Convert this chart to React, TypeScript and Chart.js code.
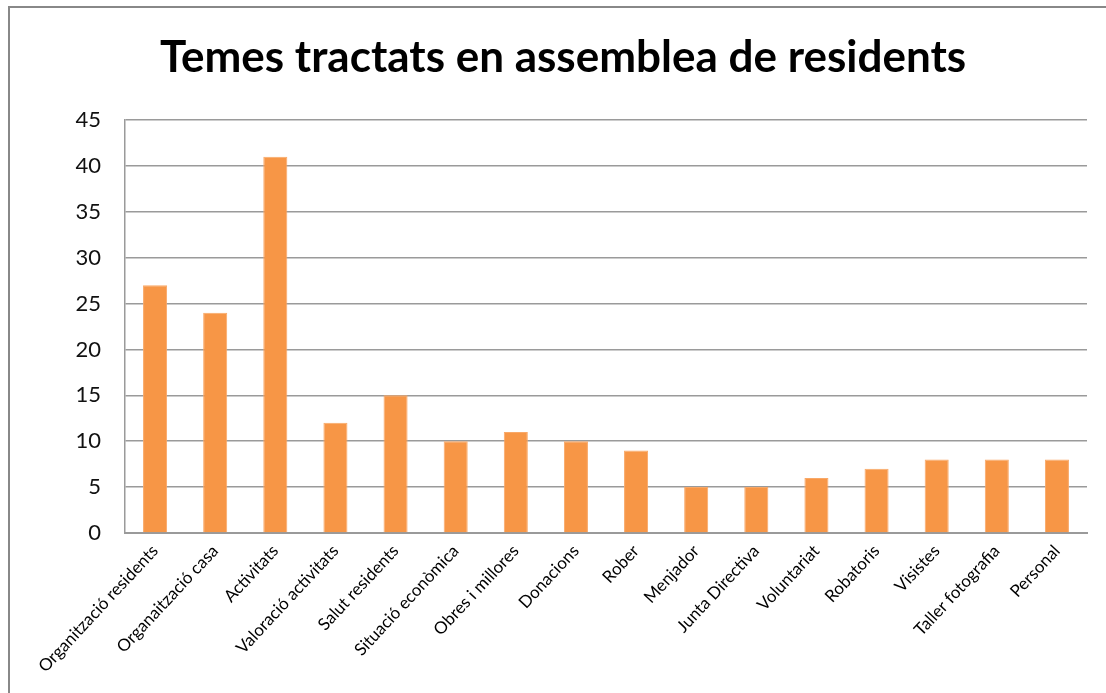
import React, { useEffect, useRef } from "react";
import { Chart, registerables } from "chart.js";

Chart.register(...registerables);

const categories = [
  "Organització residents",
  "Organaització casa",
  "Activitats",
  "Valoració activitats",
  "Salut residents",
  "Situació econòmica",
  "Obres i millores",
  "Donacions",
  "Rober",
  "Menjador",
  "Junta Directiva",
  "Voluntariat",
  "Robatoris",
  "Visistes",
  "Taller fotografia",
  "Personal",
];
const values = [27, 24, 41, 12, 15, 10, 11, 10, 9, 5, 5, 6, 7, 8, 8, 8];
const yTicks = [0, 5, 10, 15, 20, 25, 30, 35, 40, 45];
const title = "Temes tractats en assemblea de residents";

const titlePlugin = {
  id: "customTitle",
  afterDraw(chart: any) {
    const ctx = chart.ctx;
    ctx.save();
    ctx.font = "bold 44px Lato";
    ctx.fillStyle = "#000";
    ctx.textAlign = "center";
    ctx.textBaseline = "middle";
    ctx.fillText(title, 563, 58);
    ctx.restore();
  },
};

export default function App() {
  const ref = useRef<HTMLCanvasElement | null>(null);
  useEffect(() => {
    if (!ref.current) return;
    const chart = new Chart(ref.current, {
      type: "bar",
      data: {
        labels: categories,
        datasets: [
          {
            data: values,
            backgroundColor: "#F79646",
            borderColor: "#F9A867",
            borderWidth: 1,
            barPercentage: 0.8,
            categoryPercentage: 0.5,
          },
        ],
      },
      plugins: [titlePlugin],
      options: {
        animation: false,
        responsive: false,
        maintainAspectRatio: false,
        layout: { padding: { left: 0, right: 19, top: 120, bottom: 0 } },
        plugins: {
          legend: { display: false },
          tooltip: { enabled: false },
          title: { display: false },
        },
        scales: {
          x: {
            grid: { display: false, drawTicks: false },
            border: { display: true, color: "#9a9a9a", width: 2 },
            ticks: {
              autoSkip: false,
              minRotation: 47,
              maxRotation: 47,
              color: "#000",
              padding: 8,
              font: { family: "Lato", size: 17 },
            },
            afterFit: (s: any) => {
              s.height = 160;
            },
          },
          y: {
            min: 0,
            max: 45,
            afterBuildTicks: (s: any) => {
              s.ticks = yTicks.map((v) => ({ value: v }));
            },
            grid: { color: "#9a9a9a", lineWidth: 1.5, drawTicks: false },
            border: { display: true, color: "#9a9a9a", width: 1.5 },
            ticks: {
              color: "#111",
              padding: 24,
              font: { family: "Lato", size: 22 },
            },
            afterFit: (s: any) => {
              s.width = 125;
            },
          },
        },
      },
    });
    return () => chart.destroy();
  }, []);
  return (
    <div
      style={{
        position: "fixed",
        left: 0,
        top: 0,
        width: 1106,
        height: 693,
        overflow: "hidden",
        background: "#fff",
      }}
    >
      <canvas
        ref={ref}
        width={1106}
        height={693}
        style={{ position: "absolute", left: 0, top: 0, width: 1106, height: 693 }}
      />
      <div
        style={{
          position: "absolute",
          left: 8,
          top: 6,
          width: 1200,
          height: 800,
          border: "2px solid #888",
          pointerEvents: "none",
        }}
      />
    </div>
  );
}
